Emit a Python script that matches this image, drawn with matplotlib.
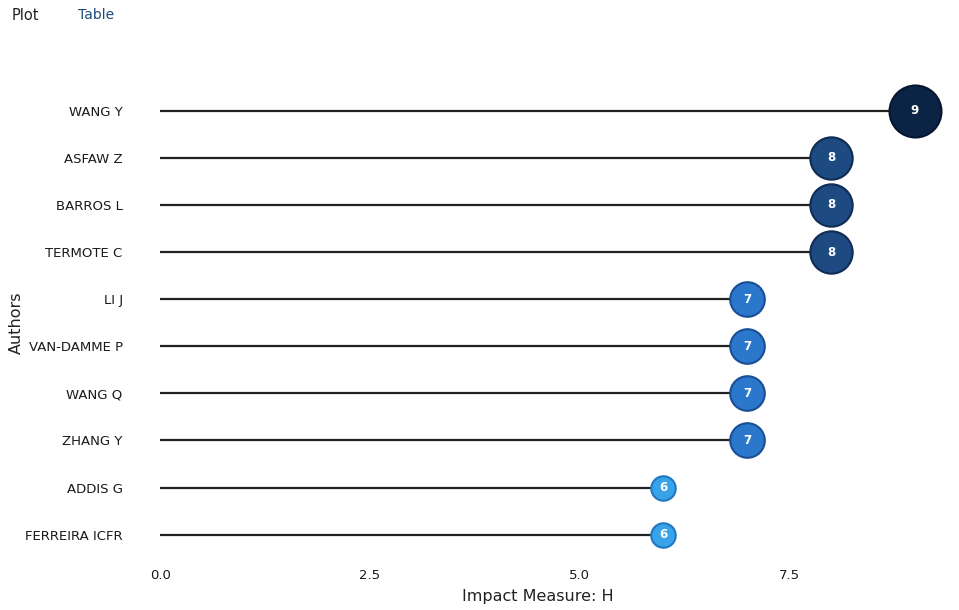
import matplotlib
matplotlib.use("Agg")
import matplotlib.pyplot as plt

authors = ['WANG Y', 'ASFAW Z', 'BARROS L', 'TERMOTE C', 'LI J',
           'VAN-DAMME P', 'WANG Q', 'ZHANG Y', 'ADDIS G', 'FERREIRA ICFR']
h_index = [9, 8, 8, 8, 7, 7, 7, 7, 6, 6]
xticks = [0.0, 2.5, 5.0, 7.5]

colors = {9: '#0b2345', 8: '#1d4a80', 7: '#2a77cc', 6: '#39a3ea'}
edges = {9: '#061630', 8: '#0f2d55', 7: '#1a4f95', 6: '#1f78c0'}
sizes = {9: 1400, 8: 930, 7: 620, 6: 310}

fig = plt.figure(figsize=(9.59, 6.1), dpi=100)
ax = fig.add_axes([0.167, 0.085, 0.787, 0.772])

ys = list(range(len(authors)))
for y, v in zip(ys, h_index):
    ax.plot([0, v], [y, y], color='#222222', lw=1.6, zorder=1)
    ax.scatter(v, y, s=sizes[v], color=colors[v], edgecolors=edges[v],
               linewidths=1.5, zorder=3, clip_on=False)
    ax.text(v, y, str(v), color='white', ha='center', va='center',
            fontsize=8.5, fontweight='bold', zorder=4)

ax.set_xlim(0, 9)
ax.set_ylim(len(authors) - 0.5, -0.5)
ax.set_yticks(ys)
ax.set_yticklabels(authors, fontsize=9.5, color='#1a1a1a')
ax.set_xticks(xticks)
ax.set_xticklabels([f'{t:.1f}' for t in xticks], fontsize=9.5, color='#1a1a1a')
ax.tick_params(axis='y', length=0, pad=27)
ax.tick_params(axis='x', length=0, pad=8)
for s in ax.spines.values():
    s.set_visible(False)

ax.set_xlabel('Impact Measure: H', fontsize=11.5, labelpad=5, color='#222222')
ax.set_ylabel('Authors', fontsize=11.5, color='#222222')
ax.yaxis.set_label_coords(-0.181, 0.5)

fig.text(0.012, 0.975, 'Plot', fontsize=10.5, color='#222222', va='center')
fig.text(0.081, 0.975, 'Table', fontsize=10, color='#1f4a78', va='center')

fig.savefig('out.png', dpi=100)
